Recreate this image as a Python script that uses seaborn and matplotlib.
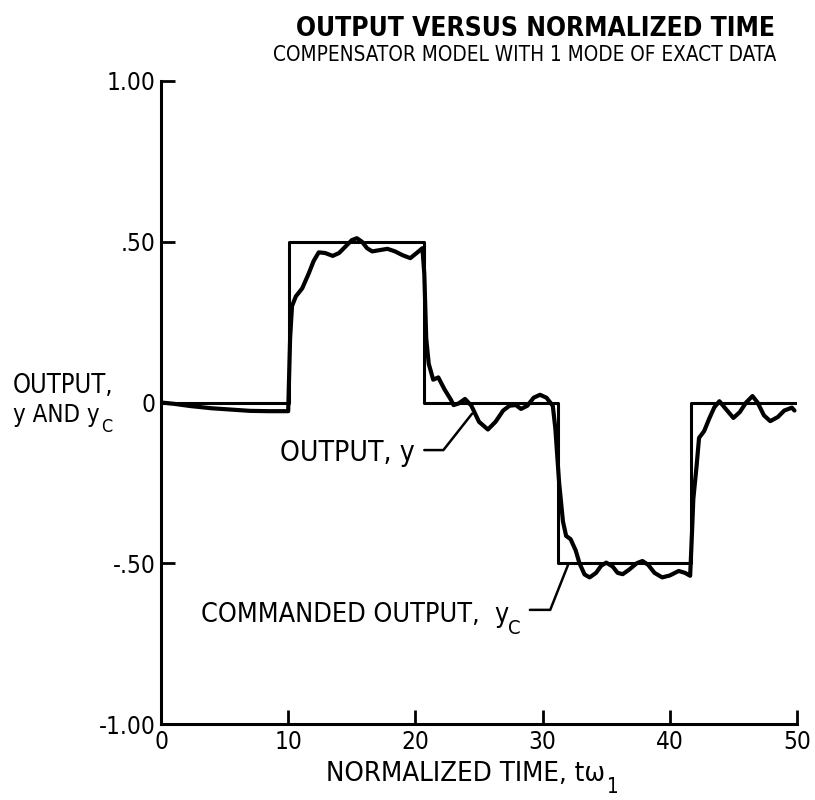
import os
import seaborn as sns
import matplotlib.pyplot as plt
from matplotlib import font_manager
from matplotlib.font_manager import FontProperties

# commanded output (square wave steps)
t_cmd = [0, 10.1, 10.1, 20.7, 20.7, 31.2, 31.2, 41.7, 41.7, 50]
y_cmd = [0, 0, 0.5, 0.5, 0, 0, -0.5, -0.5, 0, 0]

# output y
t_out = [0, 1, 2.3, 4, 5.5, 7, 8.5, 10.0, 10.05, 10.15, 10.3, 10.6, 11.1, 11.6, 12.0,
         12.4, 12.9, 13.5, 14.0, 14.5, 15.0, 15.4, 15.8, 16.2, 16.6, 17.2, 17.8,
         18.4, 19.0, 19.6, 20.1, 20.55, 20.7, 20.85, 21.05, 21.4, 21.8, 22.3, 22.8,
         23.0, 23.4, 23.9, 24.4, 25.0, 25.7, 26.3, 26.9, 27.4, 27.9, 28.3, 28.8,
         29.3, 29.8, 30.3, 30.8, 31.0, 31.3, 31.6, 31.85, 32.2, 32.6, 32.9, 33.3,
         33.7, 34.2, 34.6, 35.0, 35.5, 35.9, 36.3, 36.8, 37.4, 37.85, 38.3, 38.8,
         39.4, 40.0, 40.7, 41.2, 41.6, 41.75, 41.85, 42.1, 42.3, 42.7, 43.1, 43.5,
         43.9, 44.4, 45.0, 45.5, 46.0, 46.5, 46.9, 47.4, 47.9, 48.5, 49.0, 49.6, 49.8]
y_out = [0, -0.004, -0.011, -0.018, -0.022, -0.026, -0.027, -0.027, 0.05, 0.2, 0.3,
         0.33, 0.355, 0.4, 0.44, 0.467, 0.465, 0.456, 0.465, 0.485, 0.505, 0.511,
         0.5, 0.48, 0.47, 0.474, 0.478, 0.47, 0.458, 0.449, 0.465, 0.48, 0.4, 0.2,
         0.12, 0.071, 0.078, 0.04, 0.008, -0.008, -0.003, 0.011, -0.01, -0.06,
         -0.084, -0.06, -0.025, -0.01, -0.008, -0.02, -0.01, 0.015, 0.024, 0.015,
         -0.01, -0.08, -0.25, -0.37, -0.415, -0.425, -0.46, -0.5, -0.535, -0.544,
         -0.53, -0.508, -0.498, -0.51, -0.53, -0.534, -0.52, -0.5, -0.493, -0.505,
         -0.53, -0.544, -0.538, -0.524, -0.53, -0.539, -0.4, -0.3, -0.2, -0.11,
         -0.089, -0.05, -0.015, 0.004, -0.02, -0.048, -0.03, 0.0, 0.02, 0.0, -0.04,
         -0.058, -0.045, -0.025, -0.016, -0.025]

x_ticks = [0, 10, 20, 30, 40, 50]
y_ticks = [-1.0, -0.5, 0, 0.5, 1.0]
y_tick_labels = ['-1.00', '-.50', '0', '.50', '1.00']


def find_narrow(bold):
    prefs = ['noto', 'liberation', 'dejavu', 'roboto', 'open']
    found = []
    for f in font_manager.fontManager.ttflist:
        fn = os.path.basename(f.fname).lower()
        key = f.name.lower() + ' ' + fn
        if 'condensed' not in key and 'narrow' not in key:
            continue
        bad = ['semi', 'extra', 'ultra', 'italic', 'oblique', 'light', 'thin',
               'medium', 'black', 'mono', 'serif', 'display']
        if any(b in key for b in bad):
            continue
        if ('bold' in fn) != bold:
            continue
        rank = next((i for i, p in enumerate(prefs) if p in key), 99)
        found.append((rank, f.fname))
    found.sort()
    return found[0][1] if found else None


reg_path = find_narrow(False)
bold_path = find_narrow(True)
# the reference lettering is narrower than any installed face: trade a little
# width for height
grow = 1.05 if reg_path and 'noto' in reg_path.lower() else 1.12


def fp(size, bold=False):
    path = bold_path if bold else reg_path
    if path:
        return FontProperties(fname=path, size=size)
    return FontProperties(family='Liberation Sans', size=size,
                          weight='bold' if bold else 'normal')


sns.set_style('ticks')
plt.rcParams['text.color'] = 'black'

W, H = 815, 800
fig = plt.figure(figsize=(W / 100, H / 100), dpi=100)
ax = fig.add_axes([161 / W, 1 - 724 / H, (797 - 161) / W, (724 - 81) / H])

sns.lineplot(x=t_cmd, y=y_cmd, ax=ax, color='black', lw=2.2,
             estimator=None, sort=False)
sns.lineplot(x=t_out, y=y_out, ax=ax, color='black', lw=3.0,
             estimator=None, sort=False)

ax.set_xlim(0, 50)
ax.set_ylim(-1, 1)
ax.set_xticks(x_ticks)
ax.set_xticklabels([str(v) for v in x_ticks])
ax.set_yticks(y_ticks)
ax.set_yticklabels(y_tick_labels)
ax.tick_params(direction='in', length=10, width=2, pad=4, color='black')
for lab in ax.get_xticklabels() + ax.get_yticklabels():
    lab.set_fontproperties(fp(17.5))
    lab.set_color('black')
sns.despine(ax=ax)
for s in ['left', 'bottom']:
    ax.spines[s].set_linewidth(2.2)
    ax.spines[s].set_color('black')


def ptext(x, y, s, width, ha='left', sub=None, sub_dx=2, bold=False):
    # text anchored at x (left / centre / right) with baseline at y, in pixels
    # from the top-left corner, sized from the width it spans in the reference
    t = fig.text(0, 1 - y / H, s, ha='left', va='baseline',
                 fontproperties=fp(20, bold))
    fig.canvas.draw()
    size = 20 * width / t.get_window_extent().width * grow
    t.set_fontproperties(fp(size, bold))
    fig.canvas.draw()
    w = t.get_window_extent().width
    if sub:
        s_t = fig.text(0, 1 - (y + size * 0.6) / H, sub, ha='left',
                       va='baseline', fontproperties=fp(size * 0.75))
        fig.canvas.draw()
        sw = s_t.get_window_extent().width + sub_dx
    else:
        sw = 0
    total = w + sw
    left = {'left': x, 'center': x - total / 2, 'right': x - total}[ha]
    t.set_x(left / W)
    if sub:
        s_t.set_x((left + w + sub_dx) / W)
    return t


ptext(536, 36, 'OUTPUT VERSUS NORMALIZED TIME', 428, ha='center', bold=True)
ptext(525, 61, 'COMPENSATOR MODEL WITH 1 MODE OF EXACT DATA', 450, ha='center')

ptext(13, 393, 'OUTPUT,', 90)
ptext(13, 422, 'y AND y', 77, sub='C')

ptext(472, 781, 'NORMALIZED TIME, t\u03c9', 250, ha='center', sub='1')

# annotations with leader lines
ptext(415, 461, 'OUTPUT, y', 120, ha='right')
ax.plot([20.7, 22.2, 24.45], [-0.148, -0.148, -0.035], color='black', lw=1.8)
ptext(521, 622, 'COMMANDED OUTPUT,  y', 276, ha='right', sub='C', sub_dx=-1)
ax.plot([29.0, 30.6, 32.0], [-0.645, -0.645, -0.505], color='black', lw=1.8)

fig.savefig('out.png', dpi=100)
